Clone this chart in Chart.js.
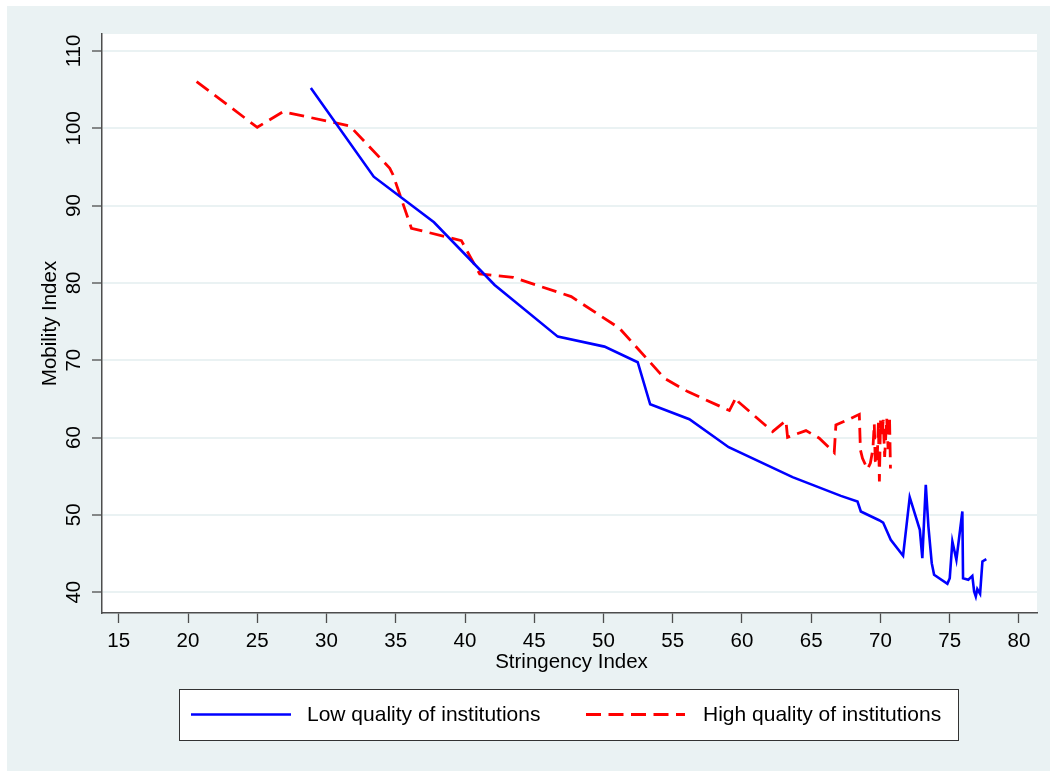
<!DOCTYPE html>
<html>
<head>
<meta charset="utf-8">
<script src="https://cdn.jsdelivr.net/npm/chart.js@4.4.1/dist/chart.umd.min.js"></script>
<style>
  html, body { margin: 0; padding: 0; background: #ffffff; }
  #wrap { width: 1057px; height: 771px; position: relative; }
</style>
</head>
<body>
<div id="wrap"><canvas id="c" width="1057" height="771"></canvas></div>
<script>
const seriesLabels = ["Low quality of institutions", "High quality of institutions"];

const lowX = [28.87,33.41,37.76,42.14,46.7,50.07,52.47,53.37,56.2,59.04,63.65,67.14,68.34,68.58,69.9,70.19,70.74,71.63,72.11,72.84,73.02,73.27,73.46,73.7,73.87,74.83,75.0,75.19,75.48,75.91,75.96,76.34,76.63,76.76,76.88,76.99,77.19,77.36,77.64];
const lowY = [105.2,93.74,87.85,79.74,73.05,71.76,69.74,64.3,62.37,58.75,54.87,52.45,51.72,50.43,49.3,49.0,46.76,44.7,52.28,48.06,44.4,53.87,48.48,43.75,42.24,41.07,41.8,46.54,44.18,50.43,41.8,41.6,42.1,40.08,39.43,40.39,39.78,43.96,44.27];

const highX = [20.62,25.0,26.87,31.68,34.57,34.8,36.13,39.74,41.06,43.46,47.67,51.15,54.4,56.08,59.09,59.57,59.75,62.21,63.17,63.29,64.62,65.58,66.66,66.78,67.62,68.47,68.55,68.7,69.06,69.27,69.45,69.55,69.62,69.75,69.85,69.92,70.0,70.1,70.2,70.3,70.45,70.55,70.65,70.72];
const highY = [106.03,100.13,102.15,100.3,94.83,94.0,87.07,85.47,81.16,80.73,78.23,74.14,67.67,65.94,63.49,65.2,64.6,60.77,62.19,60.04,60.9,59.91,58.05,61.63,62.28,63.0,58.4,57.3,55.9,56.7,58.5,61.8,57.0,56.5,62.0,54.3,62.2,60.0,62.3,57.5,62.5,58.5,62.8,56.0];

const xTicks = [15,20,25,30,35,40,45,50,55,60,65,70,75,80];
const yTicks = [40,50,60,70,80,90,100,110];
const xTitle = "Stringency Index";
const yTitle = "Mobility Index";

const FONT = "'Liberation Sans', Arial, sans-serif";
const BG = "#eaf2f3";
const AXIS = "#4d4d4d";

function toPoints(xs, ys) { return xs.map((x, i) => ({ x: x, y: ys[i] })); }

const decor = {
  id: 'decor',
  beforeDraw(chart) {
    const ctx = chart.ctx, a = chart.chartArea;
    ctx.save();
    ctx.fillStyle = '#ffffff';
    ctx.fillRect(0, 0, chart.width, chart.height);
    ctx.fillStyle = BG;
    ctx.fillRect(7, 6, 1043, 765);
    ctx.fillStyle = '#ffffff';
    ctx.fillRect(a.left, a.top, a.right - a.left, a.bottom - a.top);
    ctx.restore();
  },
  afterDraw(chart) {
    const ctx = chart.ctx, a = chart.chartArea;
    const ys = chart.scales.y;
    ctx.save();
    ctx.fillStyle = '#000';
    // y tick labels, rotated
    ctx.font = "20.5px " + FONT;
    ctx.textAlign = 'center';
    ctx.textBaseline = 'middle';
    yTicks.forEach(v => {
      const py = ys.getPixelForValue(v);
      ctx.save();
      ctx.translate(74, py);
      ctx.rotate(-Math.PI / 2);
      ctx.fillText(String(v), 0, 0);
      ctx.restore();
    });
    // y title
    ctx.save();
    ctx.translate(50, (a.top + a.bottom) / 2);
    ctx.rotate(-Math.PI / 2);
    ctx.fillText(yTitle, 0, 0);
    ctx.restore();
    // x title
    ctx.fillText(xTitle, (a.left + a.right) / 2 + 2, 662);
    // legend
    ctx.fillStyle = '#ffffff';
    ctx.fillRect(179.5, 689.5, 779, 51);
    ctx.strokeStyle = '#333';
    ctx.lineWidth = 1;
    ctx.strokeRect(179.5, 689.5, 779, 51);
    const items = [
      { x0: 191, x1: 291, tx: 307 },
      { x0: 586, x1: 685, tx: 703 }
    ];
    chart.data.datasets.forEach((ds, i) => {
      const it = items[i];
      ctx.save();
      ctx.strokeStyle = ds.borderColor;
      ctx.lineWidth = ds.borderWidth;
      ctx.setLineDash(ds.borderDash || []);
      ctx.beginPath();
      ctx.moveTo(it.x0, 714.5);
      ctx.lineTo(it.x1, 714.5);
      ctx.stroke();
      ctx.restore();
      ctx.fillStyle = '#000';
      ctx.font = "21px " + FONT;
      ctx.textAlign = 'left';
      ctx.textBaseline = 'middle';
      ctx.fillText(ds.label, it.tx, 715);
    });
    ctx.restore();
  }
};

new Chart(document.getElementById('c'), {
  type: 'line',
  data: {
    datasets: [
      {
        label: seriesLabels[0],
        data: toPoints(lowX, lowY),
        borderColor: '#0000ff',
        borderWidth: 2.6,
        pointRadius: 0,
        tension: 0,
        fill: false
      },
      {
        label: seriesLabels[1],
        data: toPoints(highX, highY),
        borderColor: '#ff0000',
        borderWidth: 2.8,
        borderDash: [15, 7.5],
        pointRadius: 0,
        tension: 0,
        fill: false
      }
    ]
  },
  options: {
    responsive: false,
    animation: false,
    devicePixelRatio: 1,
    layout: { padding: { left: 0, top: 34, right: 20, bottom: 0 } },
    plugins: { legend: { display: false }, tooltip: { enabled: false } },
    scales: {
      x: {
        type: 'linear',
        min: 13.79,
        max: 81.3,
        afterBuildTicks: s => { s.ticks = xTicks.map(v => ({ value: v })); },
        afterFit: s => { s.height = 158; },
        grid: { drawOnChartArea: false, drawTicks: true, tickLength: 10, tickColor: AXIS, tickWidth: 1.3 },
        border: { color: AXIS, width: 1.5 },
        ticks: {
          color: '#000',
          font: { family: FONT, size: 20.5 },
          padding: 6,
          maxRotation: 0,
          autoSkip: false
        }
      },
      y: {
        type: 'linear',
        min: 37.3,
        max: 112.2,
        afterBuildTicks: s => { s.ticks = yTicks.map(v => ({ value: v })); },
        afterFit: s => { s.width = 102; },
        grid: { color: BG, lineWidth: 2, drawTicks: true, tickLength: 10, tickColor: AXIS, tickWidth: 1.3 },
        border: { color: AXIS, width: 1.5 },
        ticks: { display: false }
      }
    }
  },
  plugins: [decor]
});
</script>
</body>
</html>
